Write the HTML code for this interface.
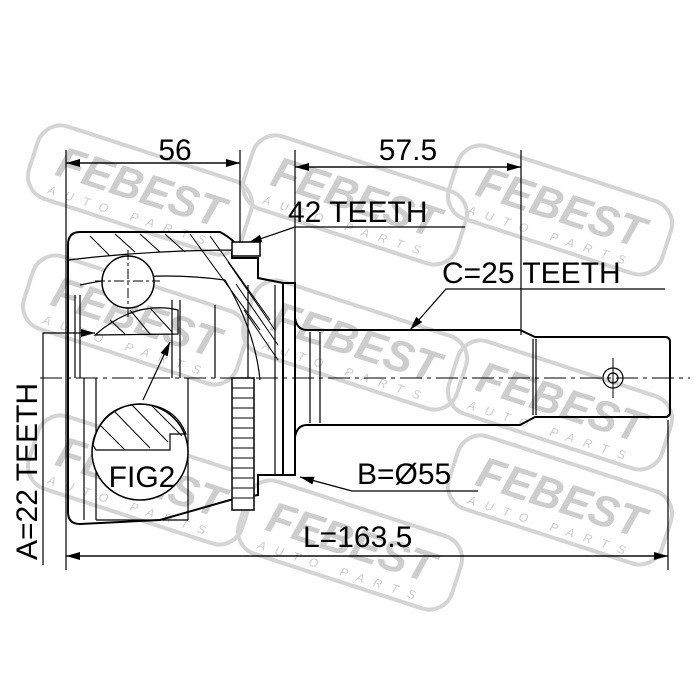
<!DOCTYPE html>
<html><head><style>
html,body{margin:0;padding:0;background:#fff;}
svg{display:block;font-family:"Liberation Sans",sans-serif;}
</style></head><body>
<svg width="700" height="700" viewBox="0 0 700 700" xmlns="http://www.w3.org/2000/svg">
<defs>
<marker id="ar" markerWidth="14" markerHeight="8" refX="14" refY="4" orient="auto" markerUnits="userSpaceOnUse">
<path d="M0,0 L14,4 L0,8 z" fill="#000"/></marker>
<g id="wm">
<rect x="-112" y="-38" width="224" height="76" rx="24" fill="none" stroke="#d4d4d4" stroke-width="4"/>
<text x="0" y="12" text-anchor="middle" font-size="44" font-weight="bold" fill="#cdcdcd" font-style="italic">FEBEST</text>
<text x="0" y="32" text-anchor="middle" font-size="12" fill="#cdcdcd" font-style="italic" letter-spacing="10">AUTO PARTS</text>
</g>
</defs>
<g>
<use href="#wm" transform="translate(140,190) rotate(18)"/>
<use href="#wm" transform="translate(355,200) rotate(18)"/>
<use href="#wm" transform="translate(560,210) rotate(18)"/>
<use href="#wm" transform="translate(135,320) rotate(18)"/>
<use href="#wm" transform="translate(355,345) rotate(18)"/>
<use href="#wm" transform="translate(560,405) rotate(18)"/>
<use href="#wm" transform="translate(140,480) rotate(18)"/>
<use href="#wm" transform="translate(350,545) rotate(18)"/>
<use href="#wm" transform="translate(560,500) rotate(18)"/>
</g>
<g fill="none" stroke="#000" stroke-width="2">
<line x1="66" y1="150" x2="66" y2="570" stroke-width="1.2"/>
<line x1="240" y1="150" x2="240" y2="250" stroke-width="1.2"/>
<line x1="295" y1="150" x2="295" y2="285" stroke-width="1.2"/>
<line x1="521" y1="150" x2="521" y2="335" stroke-width="1.2"/>
<line x1="668" y1="420" x2="668" y2="570" stroke-width="1.2"/>
<line x1="240" y1="163" x2="66" y2="163" stroke-width="1.2" marker-end="url(#ar)"/>
<line x1="66" y1="163" x2="240" y2="163" stroke-width="1.2" marker-end="url(#ar)"/>
<line x1="521" y1="167" x2="295" y2="167" stroke-width="1.2" marker-end="url(#ar)"/>
<line x1="295" y1="167" x2="521" y2="167" stroke-width="1.2" marker-end="url(#ar)"/>
<line x1="668" y1="556" x2="66" y2="556" stroke-width="1.2" marker-end="url(#ar)"/>
<line x1="66" y1="556" x2="668" y2="556" stroke-width="1.2" marker-end="url(#ar)"/>
<polyline points="465,227 295,227 248,243" stroke-width="1.2" marker-end="url(#ar)"/>
<polyline points="665,289 446,289 410,330" stroke-width="1.2" marker-end="url(#ar)"/>
<polyline points="478,491 352,491 300,477" stroke-width="1.2" marker-end="url(#ar)"/>
<polyline points="43,565 43,333 95,333" stroke-width="1.2" marker-end="url(#ar)"/>
<line x1="143" y1="400" x2="170" y2="342" stroke-width="1.2" marker-end="url(#ar)"/>
<line x1="40" y1="378" x2="690" y2="378" stroke-width="1" stroke-dasharray="22,5,4,5"/>
<path d="M80,232 L220,232 Q235,240 240,250 L232,250 L232,258 L258,258 L258,278 L283,283 L283,475 L258,475 L258,495 L230,500 L160,520 L80,524 Q68,524 68,512 L68,245 Q68,232 80,232 z"/>
<path d="M68,260 Q150,250 240,250" stroke-width="1.2"/>
<path d="M80,285 Q150,270 225,280 Q255,330 260,380" stroke-width="1.2"/>
<line x1="75" y1="295" x2="75" y2="378" stroke-width="1.2"/><line x1="80" y1="295" x2="80" y2="378" stroke-width="1.2"/>
<line x1="172" y1="300" x2="172" y2="378" stroke-width="1.2"/><line x1="180" y1="300" x2="180" y2="378" stroke-width="1.2"/>
<line x1="215" y1="305" x2="215" y2="378" stroke-width="1.2"/>
<line x1="84" y1="378" x2="84" y2="520" stroke-width="1.2"/>
<line x1="96" y1="378" x2="96" y2="520" stroke-width="1.2"/>
<line x1="188" y1="378" x2="188" y2="520" stroke-width="1.2"/>
<line x1="96" y1="520" x2="188" y2="520" stroke-width="1.2"/>
<line x1="248" y1="285" x2="248" y2="378" stroke-width="1.2"/>
<line x1="275" y1="285" x2="275" y2="475" stroke-width="1.2"/>
<circle cx="128" cy="282" r="26" stroke-width="1.5" fill="#fff"/>
<line x1="128" y1="250" x2="128" y2="318" stroke-width="1" stroke-dasharray="10,3,3,3"/>
<line x1="95" y1="281" x2="160" y2="281" stroke-width="1" stroke-dasharray="10,3,3,3"/>
<path d="M95,335 Q135,300 178,310 L178,334 z" stroke-width="1.2"/>
<g stroke-width="1">
<line x1="90" y1="236" x2="110" y2="256"/><line x1="115" y1="234" x2="135" y2="252"/><line x1="140" y1="234" x2="160" y2="252"/><line x1="165" y1="234" x2="185" y2="252"/>
<line x1="190" y1="234" x2="260" y2="330"/><line x1="210" y1="236" x2="270" y2="320"/><line x1="228" y1="262" x2="275" y2="330"/><line x1="236" y1="284" x2="278" y2="345"/><line x1="244" y1="310" x2="278" y2="360"/>
<line x1="110" y1="320" x2="125" y2="334"/><line x1="130" y1="310" x2="150" y2="334"/><line x1="150" y1="308" x2="172" y2="332"/>
</g>
<rect x="232" y="378" width="22" height="132" fill="#fff" stroke-width="1.5"/>
<g stroke-width="1"><line x1="232" y1="388" x2="254" y2="388"/><line x1="232" y1="398" x2="254" y2="398"/><line x1="232" y1="408" x2="254" y2="408"/><line x1="232" y1="418" x2="254" y2="418"/><line x1="232" y1="428" x2="254" y2="428"/><line x1="232" y1="438" x2="254" y2="438"/><line x1="232" y1="448" x2="254" y2="448"/><line x1="232" y1="458" x2="254" y2="458"/><line x1="232" y1="468" x2="254" y2="468"/><line x1="232" y1="478" x2="254" y2="478"/><line x1="232" y1="488" x2="254" y2="488"/><line x1="232" y1="498" x2="254" y2="498"/></g>
<rect x="232" y="242" width="28" height="14" stroke-width="1.5" fill="#fff"/>
<circle cx="140" cy="452" r="48" fill="#fff" stroke-width="1.5"/>
<path d="M96,450 L170,450 L170,434 L186,434 Q175,405 140,404 Q100,406 93,445 z" stroke-width="1.2"/>
<g stroke-width="1"><line x1="100" y1="425" x2="125" y2="450"/><line x1="115" y1="412" x2="150" y2="448"/><line x1="132" y1="405" x2="168" y2="442"/><line x1="152" y1="406" x2="182" y2="436"/></g>
<rect x="283" y="283" width="12" height="192" stroke-width="2"/>
<path d="M295,318 Q297,330 307,330 L520,330 L535,337 L665,337 Q670,337 670,342 L670,412 Q670,417 665,417 L535,417 L520,425 L307,425 Q297,425 295,437"/>
<line x1="310" y1="332" x2="310" y2="423" stroke-width="1.2"/>
<line x1="320" y1="332" x2="320" y2="423" stroke-width="1.2"/>
<line x1="533" y1="339" x2="533" y2="415" stroke-width="1.2"/>
<line x1="536" y1="339" x2="536" y2="415" stroke-width="1.2"/>
<circle cx="613" cy="378" r="10" stroke-width="1.2"/>
<circle cx="613" cy="378" r="5" stroke-width="1.2"/>
<line x1="613" y1="358" x2="613" y2="398" stroke-width="1"/>
</g>
<g fill="#000" font-size="30">
<text x="175" y="160" text-anchor="middle">56</text>
<text x="408" y="160" text-anchor="middle">57.5</text>
<text x="288" y="222">42 TEETH</text>
<text x="442" y="283">C=25 TEETH</text>
<text x="357" y="484">B=Ø55</text>
<text x="303" y="547">L=163.5</text>
<text x="142" y="487" text-anchor="middle">FIG2</text>
<text transform="translate(37,560) rotate(-90)">A=22 TEETH</text>
</g>
</svg>
</body></html>
